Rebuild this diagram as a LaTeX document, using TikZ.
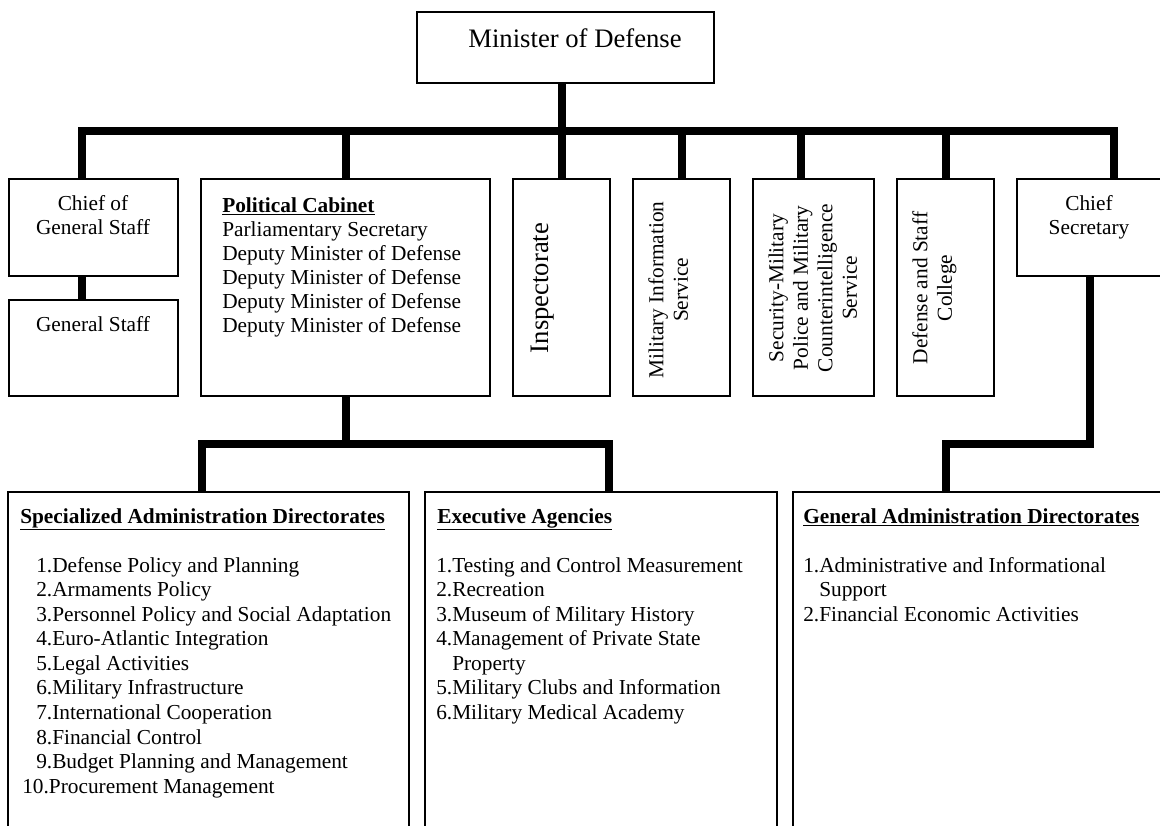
\documentclass[tikz,border=0pt]{standalone}
\usepackage{fontspec}
\setmainfont{Liberation Serif}
\usetikzlibrary{fit}
\newcommand\tstrut{\rule{0pt}{12pt}}
\newcommand\ulb[1]{\underline{\textbf{#1}}}
\begin{document}
\begin{tikzpicture}[x=0.75pt,y=-0.75pt,
  box/.style={draw, line width=1pt, inner sep=0pt},
  conn/.style={line width=6pt, line join=miter, line cap=butt},
  txt/.style={inner sep=0pt, font=\fontsize{16}{18.4}\selectfont}]
\useasboundingbox (0,0) rectangle (1160,825);
\clip (0,0) rectangle (1160,825);
\coordinate (bar) at (0,131);
\coordinate (bar2) at (0,444);
% boxes
\node[box, fit={(417,12) (714,83)}] (min) {};
\node[box, fit={(9,179) (178,276)}] (cgs) {};
\node[box, fit={(9,300) (178,396)}] (gs) {};
\node[box, fit={(201,179) (490,396)}] (pc) {};
\node[box, fit={(513,179) (610,396)}] (insp) {};
\node[box, fit={(633,179) (730,396)}] (mis) {};
\node[box, fit={(753,179) (874,396)}] (sec) {};
\node[box, fit={(897,179) (994,396)}] (def) {};
\node[box, fit={(1017,179) (1210,276)}] (cs) {};
\node[box, fit={(8,492) (409,900)}] (sad) {};
\node[box, fit={(425,492) (777,900)}] (exa) {};
\node[box, fit={(793,492) (1210,900)}] (gad) {};
% connectors
\draw[conn] ([xshift=-9pt]cgs.north) -- ([xshift=-9pt]cgs.north |- bar) -- (cs.north |- bar) -- (cs.north);
\draw[conn] (insp.north |- min.south) -- (insp.north);
\draw[conn] (pc.north) -- (pc.north |- bar);
\draw[conn] (mis.north) -- (mis.north |- bar);
\draw[conn] ([xshift=-9.375pt]sec.north) -- ([xshift=-9.375pt]sec.north |- bar);
\draw[conn] (def.north) -- (def.north |- bar);
\draw[conn] ([xshift=-9pt]cgs.south) -- ([xshift=-9pt]gs.north);
\draw[conn] (pc.south) -- (pc.south |- bar2);
\draw[conn] ([xshift=-5.25pt]sad.north) -- ([xshift=-5.25pt]sad.north |- bar2) -- ([xshift=6pt]exa.north |- bar2) -- ([xshift=6pt]exa.north);
\draw[conn] ([xshift=-18pt]cs.south) -- ([xshift=-18pt]cs.south |- bar2) -- ([xshift=-42pt]gad.north |- bar2) -- ([xshift=-42pt]gad.north);
% texts
\node[txt, font=\fontsize{20}{24}\selectfont, anchor=base] (minT) at (575,47) {Minister of Defense};
\node[txt, align=center, anchor=north] (cgsT) at (93,194) {\tstrut Chief of\\General Staff};
\node[txt, anchor=base] (gsT) at (93,331) {General Staff};
\node[txt, font=\fontsize{16}{18}\selectfont, align=left, anchor=north west] (pcT) at (222,196)
  {\tstrut\ulb{Political Cabinet}\\Parliamentary Secretary\\Deputy Minister of Defense\\Deputy Minister of Defense\\Deputy Minister of Defense\\Deputy Minister of Defense};
\node[txt, font=\fontsize{20}{24}\selectfont, rotate=90, anchor=north] (inspT) at (531,288) {Inspectorate};
\node[txt, align=center, rotate=90, anchor=north] (misT) at (647,290) {\tstrut Military Information\\Service};
\node[txt, align=center, rotate=90, anchor=north] (secT) at (767,288) {\tstrut Security-Military\\Police and Military\\Counterintelligence\\Service};
\node[txt, align=center, rotate=90, anchor=north] (defT) at (911,288) {\tstrut Defense and Staff\\College};
\node[txt, align=center, anchor=north] (csT) at (1089,194) {\tstrut Chief\\Secretary};
\node[txt, anchor=base west] (sadH) at (20,523) {\ulb{Specialized Administration Directorates}};
\node[txt, align=left, anchor=north west] (sadL) at (22,556)
  {\tstrut\hspace*{10.5pt}1.Defense Policy and Planning\\
   \hspace*{10.5pt}2.Armaments Policy\\
   \hspace*{10.5pt}3.Personnel Policy and Social Adaptation\\
   \hspace*{10.5pt}4.Euro-Atlantic Integration\\
   \hspace*{10.5pt}5.Legal Activities\\
   \hspace*{10.5pt}6.Military Infrastructure\\
   \hspace*{10.5pt}7.International Cooperation\\
   \hspace*{10.5pt}8.Financial Control\\
   \hspace*{10.5pt}9.Budget Planning and Management\\
   10.Procurement Management};
\node[txt, anchor=base west] (exaH) at (437,523) {\ulb{Executive Agencies}};
\node[txt, align=left, anchor=north west] (exaL) at (436,556)
  {\tstrut 1.Testing and Control Measurement\\
   2.Recreation\\
   3.Museum of Military History\\
   4.Management of Private State\\
   \hspace*{12pt}Property\\
   5.Military Clubs and Information\\
   6.Military Medical Academy};
\node[txt, anchor=base west] (gadH) at (803,523) {\ulb{General Administration Directorates}};
\node[txt, align=left, anchor=north west] (gadL) at (803,556)
  {\tstrut 1.Administrative and Informational\\
   \hspace*{12pt}Support\\
   2.Financial Economic Activities};
\end{tikzpicture}
\end{document}
